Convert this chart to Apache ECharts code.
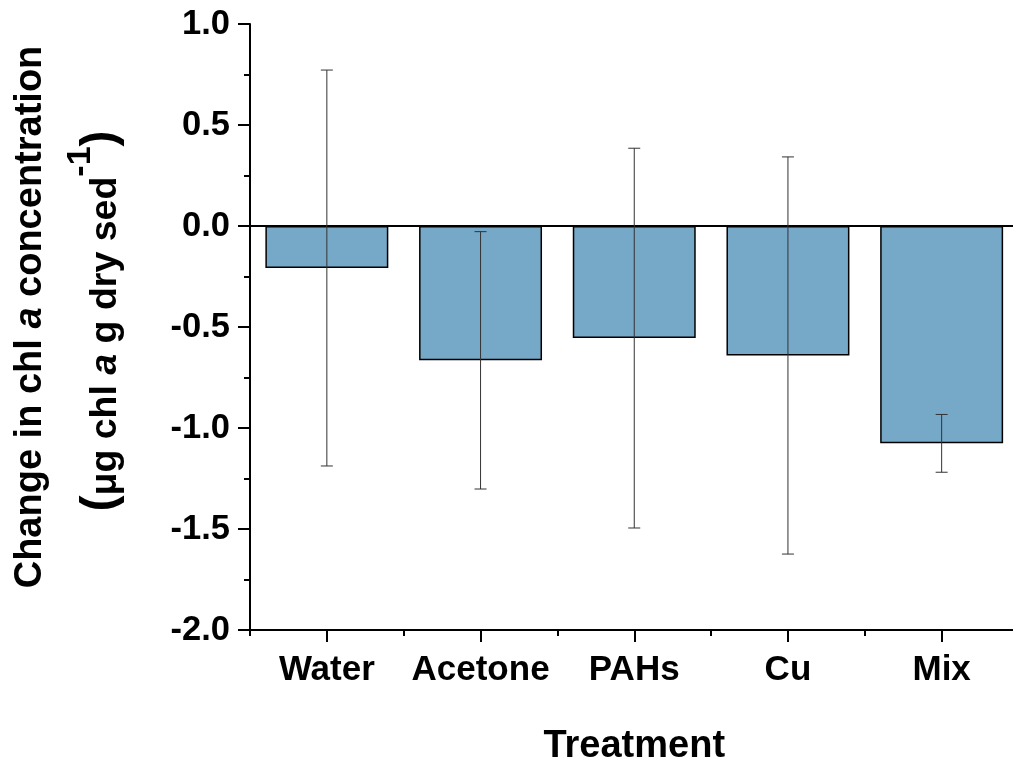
<!DOCTYPE html>
<html>
<head>
<meta charset="utf-8">
<script src="https://cdn.jsdelivr.net/npm/echarts@6/dist/echarts.min.js"></script>
<style>
html,body{margin:0;padding:0;background:#fff;}
#chart{width:1013px;height:764px;}
</style>
</head>
<body>
<div id="chart"></div>
<script>
const categories = ['Water', 'Acetone', 'PAHs', 'Cu', 'Mix'];
const means = [-0.208, -0.665, -0.555, -0.641, -1.076];
const errors = [0.98, 0.637, 0.94, 0.983, 0.143];
const yTicks = { min: -2.0, max: 1.0, interval: 0.5 };

const FONT = 'Liberation Sans, Arial, sans-serif';
const errData = categories.map((c, i) => [i, means[i] - errors[i], means[i] + errors[i]]);

const chart = echarts.init(document.getElementById('chart'), null, { renderer: 'canvas' });
chart.setOption({
  backgroundColor: '#ffffff',
  animation: false,
  grid: { left: 250, right: -5.5, top: 24, bottom: 134, containLabel: false, outerBoundsMode: 'none' },
  xAxis: [
    {
      type: 'category',
      data: categories,
      position: 'bottom',
      axisLine: { show: true, onZero: false, lineStyle: { color: '#000', width: 2 } },
      axisTick: { show: true, alignWithLabel: true, length: 12, lineStyle: { color: '#000', width: 2 } },
      axisLabel: { show: true, interval: 0, margin: 23, color: '#000', fontSize: 35, fontWeight: 'bold', fontFamily: FONT },
      name: 'Treatment',
      nameLocation: 'middle',
      nameGap: 98,
      nameTextStyle: { color: '#000', fontSize: 38, fontWeight: 'bold', fontFamily: FONT },
      splitLine: { show: false }
    },
    {
      type: 'category',
      data: categories,
      position: 'bottom',
      axisLine: { show: false, onZero: false },
      axisTick: { show: true, interval: 0, length: 6, lineStyle: { color: '#000', width: 2 } },
      axisLabel: { show: false },
      splitLine: { show: false }
    }
  ],
  yAxis: {
    type: 'value',
    min: yTicks.min,
    max: yTicks.max,
    interval: yTicks.interval,
    axisLine: { show: true, lineStyle: { color: '#000', width: 2 } },
    axisTick: { show: true, length: 12, lineStyle: { color: '#000', width: 2 } },
    minorTick: { show: true, splitNumber: 2, length: 6, lineStyle: { color: '#000', width: 2 } },
    axisLabel: { margin: 20, color: '#000', fontSize: 34.5, fontWeight: 'bold', fontFamily: FONT,
      formatter: v => v.toFixed(1) },
    splitLine: { show: false }
  },
  series: [
    {
      type: 'bar',
      data: means,
      xAxisIndex: 0,
      barWidth: '80%',
      itemStyle: { color: '#76A8C8', borderColor: '#000', borderWidth: 1.5 },
      markLine: {
        silent: true,
        symbol: ['none', 'none'],
        label: { show: false },
        lineStyle: { color: '#000', width: 2, type: 'solid' },
        data: [{ yAxis: 0 }]
      }
    },
    {
      type: 'custom',
      xAxisIndex: 0,
      data: errData,
      z: 5,
      renderItem: function (params, api) {
        const x = api.value(0);
        const lo = api.coord([x, api.value(1)]);
        const hi = api.coord([x, api.value(2)]);
        const hw = 6;
        const st = { stroke: '#333', lineWidth: 1 };
        return {
          type: 'group',
          children: [
            { type: 'line', shape: { x1: hi[0], y1: hi[1], x2: lo[0], y2: lo[1] }, style: st },
            { type: 'line', shape: { x1: hi[0] - hw, y1: hi[1], x2: hi[0] + hw, y2: hi[1] }, style: st },
            { type: 'line', shape: { x1: lo[0] - hw, y1: lo[1], x2: lo[0] + hw, y2: lo[1] }, style: st }
          ]
        };
      }
    }
  ],
  graphic: [
    {
      type: 'text',
      x: 31, y: 317,
      rotation: Math.PI / 2,
      style: {
        text: '{n|Change in chl }{i|a}{n| concentration}',
        align: 'center', verticalAlign: 'middle',
        rich: {
          n: { fontSize: 38, fontWeight: 'bold', fontFamily: FONT, fill: '#000', lineHeight: 38 },
          i: { fontSize: 38, fontWeight: 'bold', fontStyle: 'italic', fontFamily: FONT, fill: '#000', lineHeight: 38 }
        }
      }
    },
    {
      type: 'text',
      x: 94, y: 321,
      rotation: Math.PI / 2,
      style: {
        text: '{h|\u200b}{p|(}{n|μg chl }{i|a}{n| g dry sed}{s|-1}{p|)}',
        align: 'center', verticalAlign: 'middle',
        rich: {
          h: { fontSize: 10, lineHeight: 61, verticalAlign: 'top', fontFamily: FONT },
          p: { fontSize: 48, fontWeight: 'bold', fontFamily: FONT, fill: '#000', lineHeight: 44, verticalAlign: 'bottom' },
          n: { fontSize: 37.5, fontWeight: 'bold', fontFamily: FONT, fill: '#000', lineHeight: 37.5, verticalAlign: 'bottom' },
          i: { fontSize: 37.5, fontWeight: 'bold', fontStyle: 'italic', fontFamily: FONT, fill: '#000', lineHeight: 37.5, verticalAlign: 'bottom' },
          s: { fontSize: 34, fontWeight: 'bold', fontFamily: FONT, fill: '#000', lineHeight: 34, verticalAlign: 'top' }
        }
      }
    }
  ]
});
</script>
</body>
</html>
